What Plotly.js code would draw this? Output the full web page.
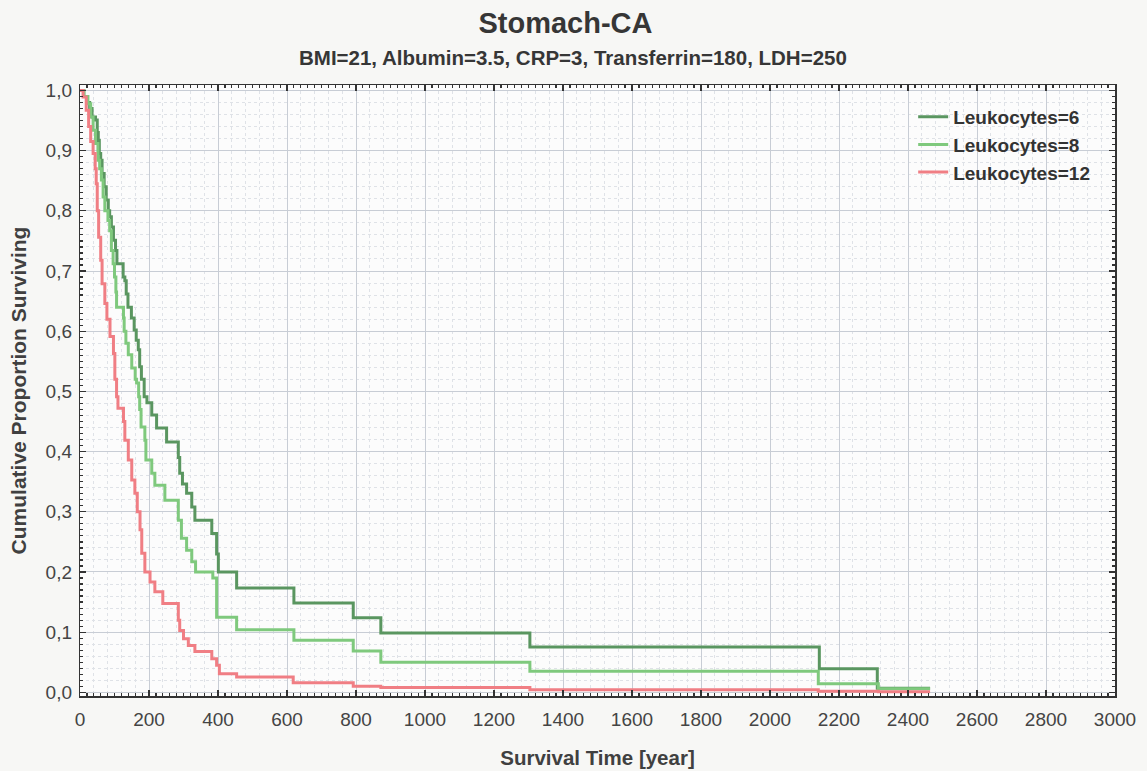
<!DOCTYPE html>
<html>
<head>
<meta charset="utf-8">
<script src="https://cdn.plot.ly/plotly-3.0.1.min.js"></script>
<style>html,body{margin:0;padding:0;background:#f7f7f5;}#chart{width:1147px;height:771px;}</style>
</head>
<body>
<div id="chart"></div>
<script>
// Leukocytes=6 (dark green)
const timeL6 = [0, 10, 20, 28, 35, 45, 50, 53, 56, 60, 64, 70, 76, 82, 86, 91, 97, 103, 107, 125, 130, 134, 139, 149, 157, 163, 169, 173, 178, 186, 194, 208, 222, 251, 285, 289, 297, 309, 324, 333, 382, 396, 401, 454, 620, 792, 872, 1304, 2143, 2311, 2464];
const survL6 = [1.0, 0.99, 0.98, 0.97, 0.956, 0.951, 0.93, 0.917, 0.895, 0.884, 0.862, 0.84, 0.818, 0.80, 0.79, 0.773, 0.751, 0.734, 0.712, 0.69, 0.684, 0.662, 0.64, 0.622, 0.602, 0.585, 0.569, 0.541, 0.52, 0.491, 0.481, 0.461, 0.439, 0.416, 0.39, 0.364, 0.346, 0.331, 0.308, 0.286, 0.264, 0.23, 0.2, 0.1735, 0.1486, 0.124, 0.0987, 0.0754, 0.0394, 0.007, 0.007];
// Leukocytes=8 (light green)
const timeL8 = [0, 12, 23, 31, 38, 45, 52, 57, 62, 67, 72, 81, 86, 91, 96, 100, 104, 106, 126, 128, 133, 140, 150, 160, 164, 170, 173, 177, 188, 191, 208, 217, 246, 285, 294, 309, 324, 335, 385, 396, 454, 620, 792, 872, 1304, 2140, 2314, 2464];
const survL8 = [1.0, 0.99, 0.978, 0.956, 0.934, 0.912, 0.884, 0.87, 0.851, 0.823, 0.80, 0.784, 0.767, 0.734, 0.712, 0.69, 0.665, 0.64, 0.622, 0.60, 0.58, 0.561, 0.539, 0.52, 0.514, 0.491, 0.47, 0.441, 0.419, 0.386, 0.364, 0.344, 0.319, 0.286, 0.256, 0.236, 0.217, 0.2, 0.19, 0.125, 0.104, 0.0865, 0.0688, 0.050, 0.035, 0.0144, 0.006, 0.006];
// Leukocytes=12 (red)
const timeL12 = [0, 9, 18, 25, 31, 38, 44, 47, 50, 54, 60, 64, 72, 78, 87, 97, 101, 106, 110, 126, 130, 140, 150, 159, 166, 174, 179, 188, 203, 217, 240, 285, 289, 300, 314, 333, 382, 396, 404, 454, 618, 792, 872, 1304, 2140, 2314, 2464];
const survL12 = [1.0, 0.989, 0.967, 0.94, 0.915, 0.895, 0.87, 0.845, 0.80, 0.756, 0.718, 0.679, 0.646, 0.62, 0.591, 0.563, 0.52, 0.491, 0.472, 0.45, 0.419, 0.386, 0.353, 0.331, 0.30, 0.27, 0.231, 0.200, 0.1835, 0.167, 0.1475, 0.12, 0.103, 0.089, 0.078, 0.068, 0.056, 0.045, 0.031, 0.0255, 0.016, 0.010, 0.008, 0.0045, 0.002, 0.001, 0.001];

const seriesNames = ['Leukocytes=6', 'Leukocytes=8', 'Leukocytes=12'];
const chartTitle = 'Stomach-CA';
const chartSubtitle = 'BMI=21, Albumin=3.5, CRP=3, Transferrin=180, LDH=250';
const xTitle = 'Survival Time [year]';
const yTitle = 'Cumulative Proportion Surviving';

const colors = ['#5a9660', '#7fc97d', '#f07e84'];
const FONT = 'Liberation Sans, Arial, sans-serif';
const xRange = [0, 3000];
const yRange = [-0.006, 1.009];

function stepTrace(x, y, name, color) {
  return {x: x, y: y, name: '<b>' + name + '</b>', type: 'scatter', mode: 'lines',
    line: {shape: 'hv', color: color, width: 3}, hoverinfo: 'x+y+name'};
}

const data = [
  stepTrace(timeL6, survL6, seriesNames[0], colors[0]),
  stepTrace(timeL8, survL8, seriesNames[1], colors[1]),
  stepTrace(timeL12, survL12, seriesNames[2], colors[2]),
  {x: [], y: [], xaxis: 'x2', yaxis: 'y2', type: 'scatter', mode: 'lines', showlegend: false, hoverinfo: 'skip'}
];

const tickFont = {family: FONT, size: 19, color: '#444'};
const layout = {
  width: 1147, height: 771,
  paper_bgcolor: '#f7f7f5', plot_bgcolor: '#fcfcfc',
  separators: ', ',
  margin: {l: 80, r: 32, t: 85, b: 75, pad: 0},
  title: {text: '<b>' + chartTitle + '</b>', x: 0.493, xanchor: 'center', y: 0.971, yanchor: 'middle',
    yref: 'container', font: {family: FONT, size: 29, color: '#363636'}},
  annotations: [{text: '<b>' + chartSubtitle + '</b>', xref: 'paper', yref: 'paper', x: 0.476, y: 1 + (85 - 58) / 610.5,
    xanchor: 'center', yanchor: 'middle', showarrow: false, font: {family: FONT, size: 20.5, color: '#363636'}}],
  showlegend: true,
  legend: {x: 0.805, xanchor: 'left', y: 0.979, yanchor: 'top', bgcolor: 'rgba(0,0,0,0)',
    font: {family: FONT, size: 19, color: '#333'}, tracegroupgap: 0},
  xaxis: {range: xRange, dtick: 200, tick0: 0, showgrid: true, gridcolor: '#c8cdd5', gridwidth: 1,
    minor: {dtick: 40, showgrid: true, gridcolor: '#dfe2e7', griddash: 'dot', ticks: ''},
    zeroline: false, showline: false, ticks: '', tickfont: tickFont, ticklabelstandoff: 10,
    title: {text: '<b>' + xTitle + '</b>', font: {family: FONT, size: 20.5, color: '#404040'}, standoff: 21}},
  yaxis: {range: yRange, dtick: 0.1, tick0: 0, tickformat: '.1f', showgrid: true, gridcolor: '#c8cdd5', gridwidth: 1,
    minor: {dtick: 0.02, showgrid: true, gridcolor: '#dfe2e7', griddash: 'dot', ticks: ''},
    zeroline: false, showline: false, ticks: '', tickfont: tickFont, ticklabelstandoff: 7,
    title: {text: '<b>' + yTitle + '</b>', font: {family: FONT, size: 21, color: '#404040'}, standoff: 13}},
  xaxis2: {overlaying: 'x', anchor: 'y2', side: 'bottom', range: xRange, dtick: 200, tick0: 0,
    showgrid: false, zeroline: false, showticklabels: false, ticks: 'inside', ticklen: 6, tickcolor: '#333', tickwidth: 1.2,
    minor: {dtick: 20, ticks: 'inside', ticklen: 3, tickcolor: '#333', showgrid: false},
    showline: true, linecolor: '#333', linewidth: 1.5, mirror: 'ticks'},
  yaxis2: {overlaying: 'y', anchor: 'x2', side: 'left', range: yRange, dtick: 0.1, tick0: 0,
    showgrid: false, zeroline: false, showticklabels: false, ticks: 'inside', ticklen: 6, tickcolor: '#333', tickwidth: 1.2,
    minor: {dtick: 0.01, ticks: 'inside', ticklen: 3, tickcolor: '#333', showgrid: false},
    showline: true, linecolor: '#333', linewidth: 1.5, mirror: 'ticks'}
};

Plotly.newPlot('chart', data, layout, {displayModeBar: false, staticPlot: true});
</script>
</body>
</html>
